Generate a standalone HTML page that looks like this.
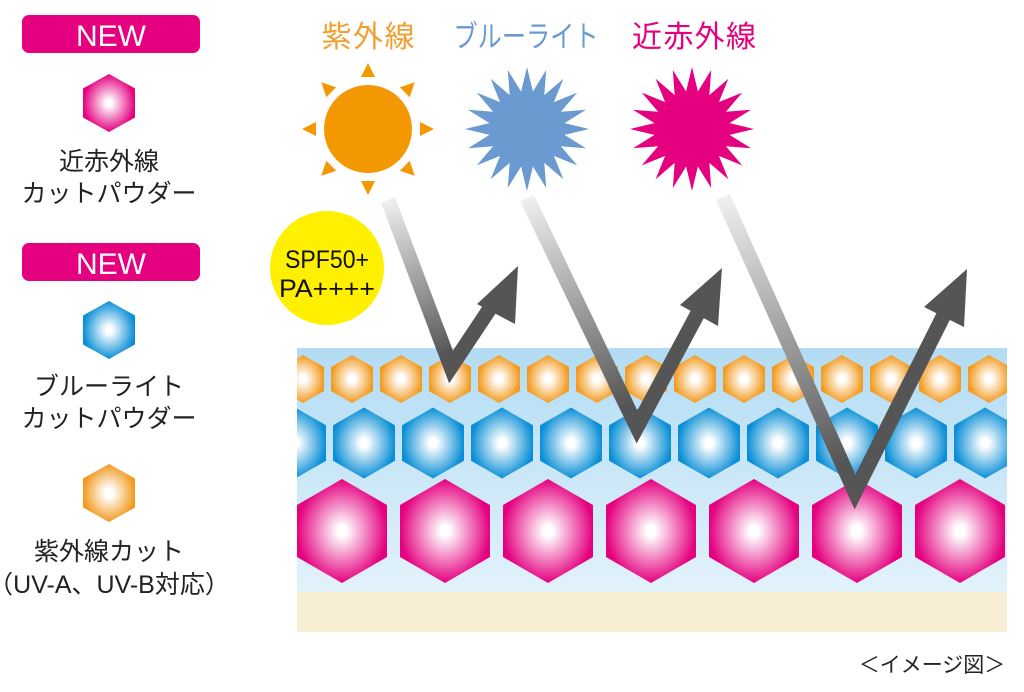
<!DOCTYPE html>
<html><head><meta charset="utf-8"><style>
body{margin:0;background:#fff;width:1024px;height:692px;overflow:hidden}
svg{display:block}
text{font-family:"Liberation Sans","Noto Sans CJK JP",sans-serif}
</style></head><body>
<svg id="s" width="1024" height="692" viewBox="0 0 1024 692" xmlns="http://www.w3.org/2000/svg">
<defs>
<linearGradient id="band" x1="0" y1="0" x2="0" y2="1"><stop offset="0" stop-color="#b2dcf4"/><stop offset="1" stop-color="#e2f2fb"/></linearGradient>
<radialGradient id="go"><stop offset="0" stop-color="#fff"/><stop offset="0.15" stop-color="#fff"/><stop offset="1" stop-color="#f29a1f"/></radialGradient>
<radialGradient id="gb"><stop offset="0" stop-color="#fff"/><stop offset="0.12" stop-color="#fff"/><stop offset="1" stop-color="#0a8fd6"/></radialGradient>
<radialGradient id="gp"><stop offset="0" stop-color="#fff"/><stop offset="0.1" stop-color="#fff"/><stop offset="1" stop-color="#e4007f"/></radialGradient>
<linearGradient id="a1" gradientUnits="userSpaceOnUse" x1="388" y1="200" x2="446" y2="355"><stop offset="0" stop-color="#f0f0f0"/><stop offset="1" stop-color="#555"/></linearGradient>
<linearGradient id="a2" gradientUnits="userSpaceOnUse" x1="527" y1="198" x2="627" y2="406"><stop offset="0" stop-color="#f0f0f0"/><stop offset="1" stop-color="#555"/></linearGradient>
<linearGradient id="a3" gradientUnits="userSpaceOnUse" x1="723" y1="197" x2="842" y2="465"><stop offset="0" stop-color="#f0f0f0"/><stop offset="1" stop-color="#555"/></linearGradient>
<clipPath id="cb"><rect x="297" y="348" width="710" height="244"/></clipPath>
</defs>
<rect x="22" y="15" width="178" height="38" rx="7" fill="#e4007f"/>
<text x="111" y="46" font-size="30" fill="#fff" text-anchor="middle">NEW</text>
<rect x="22" y="243" width="178" height="38" rx="7" fill="#e4007f"/>
<text x="111" y="274" font-size="30" fill="#fff" text-anchor="middle">NEW</text>
<g font-size="25" fill="#222" text-anchor="middle">
<text x="109" y="170">近赤外線</text><text x="109" y="202">カットパウダー</text>
<text x="109" y="395">ブルーライト</text><text x="109" y="427">カットパウダー</text>
<text x="109" y="560">紫外線カット</text><text x="109" y="593">（UV-A、UV-B対応）</text>
</g>
<text x="932" y="672" font-size="21" fill="#222" text-anchor="middle">＜イメージ図＞</text>
<g font-size="30" text-anchor="middle">
<text x="368" y="47" fill="#f0a030" textLength="93" lengthAdjust="spacing">紫外線</text>
<text x="526" y="47" fill="#6a9ad0" textLength="145" lengthAdjust="spacingAndGlyphs">ブルーライト</text>
<text x="694" y="47" fill="#e4007f" textLength="124" lengthAdjust="spacing">近赤外線</text>
</g>
<rect x="297" y="348" width="710" height="244" fill="url(#band)"/>
<rect x="297" y="592" width="710" height="40" fill="#f8eed3"/>
<g id="hex" clip-path="url(#cb)"></g>
<circle cx="327" cy="268" r="57" fill="#fff000"/>
<text x="327" y="268" font-size="25" fill="#111" text-anchor="middle" textLength="84" lengthAdjust="spacingAndGlyphs">SPF50+</text>
<text x="327" y="297" font-size="25" fill="#111" text-anchor="middle" textLength="96" lengthAdjust="spacingAndGlyphs">PA++++</text>
<g id="suns"></g>
<g fill="none" stroke-width="15" stroke-linejoin="miter" stroke-miterlimit="10">
<polyline points="436.4,328.3 451,367 490,308.4" stroke="#555"/>
<line x1="388" y1="200" x2="444.7" y2="350.3" stroke="url(#a1)"/>
<polyline points="615,381.8 637,427 709.3,291.9" stroke="#555"/>
<line x1="527" y1="198" x2="626" y2="404.1" stroke="url(#a2)"/>
<polyline points="828.6,433 855,492 950.2,302.5" stroke="#555"/>
<line x1="723" y1="197" x2="841.8" y2="462.5" stroke="url(#a3)"/>
</g>
<g fill="#555">
<polygon points="518,266 477,304 515,324"/>
<polygon points="722,268 680,305 718,326"/>
<polygon points="967,269 924,307 964,327"/>
</g>
</svg>
<script>
var NS="http://www.w3.org/2000/svg";
function poly(parent,pts,fill){var p=document.createElementNS(NS,"polygon");p.setAttribute("points",pts.map(function(a){return a[0].toFixed(1)+","+a[1].toFixed(1)}).join(" "));p.setAttribute("fill",fill);parent.appendChild(p);}
function hex(g,cx,cy,h,w,f){poly(g,[[cx,cy-h],[cx+w,cy-h/2],[cx+w,cy+h/2],[cx,cy+h],[cx-w,cy+h/2],[cx-w,cy-h/2]],f);}
var g=document.getElementById("hex");
for(var i=0;i<16;i++)hex(g,303+49*i,379,24,21,"url(#go)");
for(var i=0;i<11;i++)hex(g,295+69*i,443,35.5,31,"url(#gb)");
for(var i=0;i<7;i++)hex(g,342+103*i,531,52,45,"url(#gp)");
var root=document.getElementById("s");
hex(root,109,103,29,26,"url(#gp)");
hex(root,109,330,29,26,"url(#gb)");
hex(root,109,493,29,26,"url(#go)");
var s=document.getElementById("suns");
var c=document.createElementNS(NS,"circle");c.setAttribute("cx",368);c.setAttribute("cy",129);c.setAttribute("r",44);c.setAttribute("fill","#f39800");s.appendChild(c);
for(var k=0;k<8;k++){var a=k*Math.PI/4-Math.PI/2,r1=52,r2=66,hw=7;
var ca=Math.cos(a),sa=Math.sin(a);
poly(s,[[368+ca*r2,129+sa*r2],[368+ca*r1-sa*hw,129+sa*r1+ca*hw],[368+ca*r1+sa*hw,129+sa*r1-ca*hw]],"#f39800");}
function star(cx,cy,ro,ri,n,f){var pts=[];for(var k=0;k<2*n;k++){var a=k*Math.PI/n-Math.PI/2,r=k%2?ri:ro;pts.push([cx+Math.cos(a)*r,cy+Math.sin(a)*r]);}poly(s,pts,f);}
star(527,129,62,38,20,"#6a9ad0");
star(692,129,62,38,20,"#e4007f");
</script>
</body></html>
